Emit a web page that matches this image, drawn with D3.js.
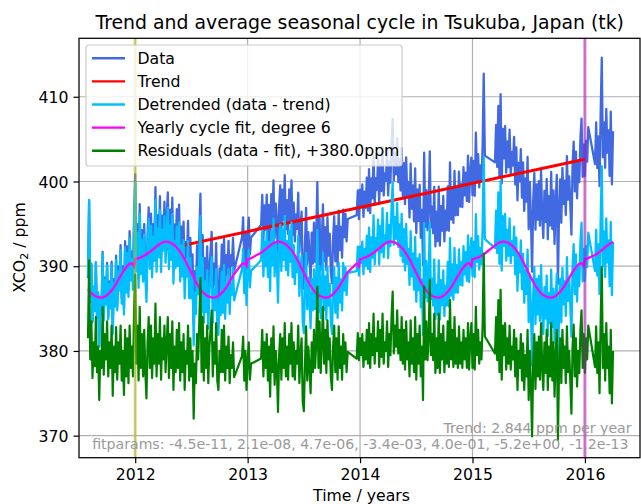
<!DOCTYPE html>
<html><head><meta charset="utf-8">
<script src="https://cdn.jsdelivr.net/npm/d3@7"></script>
<style>body{margin:0;background:#fff} svg{display:block} text{font-family:"DejaVu Sans",sans-serif}</style>
</head><body><svg id="c" width="641" height="504"></svg>
<script>
// ---------------- data ----------------
const xTicks = [2012, 2013, 2014, 2015, 2016];
const yTicks = [370, 380, 390, 400, 410];
const trendYears = [2012.0, 2016.0];
const trendValues = [391.25, 402.63];
const fitWindow = [2012.0, 2016.0];
// yearly cycle fit, by hundredth of a year (0.00 .. 0.99)
const cycleValues = [
390.85,390.87,390.9,390.95,391.0,391.05,391.1,391.17,391.25,391.32,
391.4,391.5,391.6,391.7,391.8,391.9,392.0,392.12,392.23,392.34,
392.45,392.55,392.64,392.72,392.79,392.85,392.88,392.9,392.9,392.88,
392.85,392.8,392.73,392.65,392.56,392.45,392.32,392.18,392.03,391.87,
391.7,391.5,391.28,391.05,390.8,390.55,390.28,390.0,389.73,389.46,
389.2,388.93,388.67,388.41,388.15,387.9,387.69,387.49,387.3,387.12,
386.95,386.82,386.7,386.6,386.52,386.45,386.39,386.34,386.31,386.3,
386.3,386.32,386.36,386.42,386.5,386.6,386.72,386.86,387.0,387.15,
387.3,387.51,387.72,387.94,388.17,388.4,388.63,388.86,389.08,389.3,
389.5,389.7,389.88,390.03,390.17,390.28,390.34,390.33,390.22,390.0];
// residuals (data - fit) + 380 ppm, sampled every 0.01 yr from 2011.58; null = no data
const residStart = 2011.58, residStep = 0.01;
const residualOffset = 380.0;
const detrendOffset = 390.25;
const residualValues = [
381.5,390.7,379.0,383.5,376.8,381.0,378.2,384.0,377.5,380.5,
374.2,380.0,378.0,385.2,377.2,382.0,379.0,383.5,377.0,381.0,
378.0,383.0,374.7,380.5,377.5,382.8,376.6,381.0,378.5,383.0,
376.5,380.0,374.8,382.5,377.0,381.5,376.2,383.0,378.0,380.5,
377.0,385.0,389.0,378.5,383.0,376.5,385.2,378.0,382.0,377.0,
382.5,377.5,374.4,381.0,384.0,378.0,383.0,376.8,381.5,378.5,
385.6,377.0,382.0,378.5,384.0,376.6,381.5,379.0,383.0,377.5,
381.0,384.0,376.8,382.0,378.0,383.5,375.4,380.5,377.5,382.5,
378.0,383.3,376.5,381.0,377.5,382.0,375.4,380.0,378.5,383.0,
376.5,381.5,377.0,380.0,372.0,378.5,376.2,382.0,379.0,383.5,
388.6,377.5,384.0,376.5,381.5,378.0,383.0,376.2,380.5,382.5,
384.8,377.0,381.0,378.5,383.3,376.5,375.4,380.0,377.5,382.5,
377.5,383.0,376.5,380.5,378.0,381.7,376.2,379.5,378.0,381.0,
376.9,null,null,null,null,null,null,
379.4,381.7,376.5,380.0,375.4,379.0,381.0,376.6,378.5,
null,null,null,null,null,null,null,null,
379.1,382.5,377.0,381.0,378.0,382.0,
376.5,380.5,374.6,381.5,377.5,382.9,376.0,380.0,378.0,372.8,
379.5,382.0,376.6,381.5,378.0,383.3,377.0,380.5,376.6,382.0,
378.5,383.3,377.0,381.0,376.6,380.0,378.5,383.0,376.2,379.5,
381.5,374.0,372.9,378.5,382.9,376.5,380.5,378.0,375.0,381.0,
377.5,382.5,378.0,381.0,387.6,378.0,383.5,377.4,381.0,385.2,
378.5,382.5,377.4,383.6,379.0,381.5,377.0,375.4,380.5,383.0,
377.5,381.5,376.6,382.9,378.0,380.5,376.6,382.0,378.5,381.0,
377.5,379.9,null,null,null,null,null,null,null,
379.1,
382.1,378.9,381.5,379.5,382.0,378.1,381.0,379.0,382.5,378.5,
383.3,378.0,382.0,379.5,384.4,378.5,381.5,380.0,383.5,378.1,
382.5,379.3,384.4,378.5,381.0,380.0,383.5,378.1,382.0,379.5,
384.0,387.0,379.7,383.0,380.5,384.8,379.7,382.5,378.9,384.0,
378.5,382.5,377.8,383.5,379.0,381.0,377.0,383.6,378.5,381.5,
377.5,384.0,376.6,382.0,378.5,383.0,377.0,380.5,374.2,387.6,
379.0,383.5,378.9,381.5,388.4,379.5,382.0,378.9,384.4,377.4,
381.5,378.0,384.4,377.4,382.0,379.0,383.0,377.5,381.0,378.5,
383.5,378.1,386.0,379.0,382.5,378.1,384.0,378.5,381.5,378.0,
382.9,378.5,381.0,378.0,382.5,379.0,381.5,378.0,383.3,377.8,
381.5,383.3,378.0,382.0,377.8,385.2,379.5,382.5,378.5,381.0,
379.0,383.0,391.5,381.7,null,null,null,null,null,null,null,null,
379.7,384.0,378.9,386.0,377.5,387.2,376.6,383.0,
379.5,383.3,377.8,381.5,378.5,383.0,377.8,380.5,379.0,382.5,
377.0,381.5,375.4,380.0,378.0,382.0,376.5,380.9,375.4,379.5,
377.0,382.5,374.2,380.0,376.0,369.9,378.5,382.0,375.5,381.0,
377.0,381.7,376.6,383.3,378.0,375.4,381.0,377.4,382.5,375.4,
380.5,377.0,383.3,376.5,381.0,374.6,379.5,382.5,369.5,378.0,
381.5,376.2,382.5,378.0,380.5,376.2,382.9,377.5,380.0,376.5,
372.6,380.5,383.1,377.0,381.5,375.8,380.0,377.4,382.5,384.8,
378.0,382.0,377.4,381.5,379.0,383.0,null,null,null,null,null,
378.1,382.9,377.4,381.0,375.0,383.5,389.9,378.0,382.0,
376.5,383.3,378.0,380.5,375.0,382.5,373.8,380.0];
const titleText = "Trend and average seasonal cycle in Tsukuba, Japan (tk)";
const legendLabels = ["Data","Trend","Detrended (data - trend)","Yearly cycle fit, degree 6","Residuals (data - fit), +380.0ppm"];
const legendColors = ["#4169e1","#ff0000","#00bfff","#ff00ff","#008000"];
const trendNote = "Trend: 2.844 ppm per year";
const fitNote = "fitparams: -4.5e-11, 2.1e-08, 4.7e-06, -3.4e-03, 4.0e-01, -5.2e+00, -1.2e-13";

// ---------------- derived series ----------------
const trendScale = d3.scaleLinear().domain(trendYears).range(trendValues);
const rows = [];
residualValues.forEach((r, i) => {
  if (r === null) return;
  const h = Math.round((residStart + i * residStep) * 100);
  const t = h / 100;
  const cyc = cycleValues[h % 100];
  const det = r - residualOffset + cyc;
  const dat = det + trendScale(t) - detrendOffset;
  rows.push({t, resid: r, cyc, det, dat});
});

// ---------------- chart ----------------
const L = 79, R = 640, T = 38.3, B = 457.7;
const x = d3.scaleLinear().domain([2011.5, 2016.49]).range([L, R]);
const y = d3.scaleLinear().domain([367.4, 416.9]).range([B, T]);
const svg = d3.select("#c");
svg.append("rect").attr("width", 641).attr("height", 504).attr("fill", "#fff");
svg.append("defs").append("clipPath").attr("id", "clip")
  .append("rect").attr("x", L).attr("y", T).attr("width", R - L).attr("height", B - T);

// grid
const grid = svg.append("g").attr("stroke", "#b0b0b0").attr("stroke-width", 1.2);
xTicks.forEach(v => grid.append("line").attr("x1", x(v)).attr("x2", x(v)).attr("y1", T).attr("y2", B));
yTicks.forEach(v => grid.append("line").attr("x1", L).attr("x2", R).attr("y1", y(v)).attr("y2", y(v)));

const plot = svg.append("g").attr("clip-path", "url(#clip)");
const mk = key => d3.line().x(d => x(d.t)).y(d => y(d[key]));
plot.append("path").datum(rows).attr("d", mk("dat")).attr("fill", "none")
  .attr("stroke", legendColors[0]).attr("stroke-width", 2.3).attr("stroke-linejoin", "round");
plot.append("path").datum(trendYears.map((t, i) => ({t, v: trendValues[i]})))
  .attr("d", d3.line().x(d => x(d.t)).y(d => y(d.v))).attr("fill", "none")
  .attr("stroke", legendColors[1]).attr("stroke-width", 3);
plot.append("path").datum(rows).attr("d", mk("det")).attr("fill", "none")
  .attr("stroke", legendColors[2]).attr("stroke-width", 2.3).attr("stroke-linejoin", "round");
plot.append("path").datum(rows).attr("d", mk("cyc")).attr("fill", "none")
  .attr("stroke", legendColors[3]).attr("stroke-width", 2.3);
plot.append("path").datum(rows).attr("d", mk("resid")).attr("fill", "none")
  .attr("stroke", legendColors[4]).attr("stroke-width", 2.2).attr("stroke-linejoin", "round");

// fit window markers
plot.append("line").attr("x1", x(fitWindow[0])).attr("x2", x(fitWindow[0])).attr("y1", T).attr("y2", B)
  .attr("stroke", "#bfbf00").attr("stroke-opacity", 0.45).attr("stroke-width", 3.2);
plot.append("line").attr("x1", x(fitWindow[1])).attr("x2", x(fitWindow[1])).attr("y1", T).attr("y2", B)
  .attr("stroke", "#bf00bf").attr("stroke-opacity", 0.45).attr("stroke-width", 3.2);

// notes
svg.append("text").attr("x", 631.5).attr("y", 433).attr("text-anchor", "end")
  .attr("font-size", 14.1).attr("fill", "#999").text(trendNote);
svg.append("text").attr("x", 628.5).attr("y", 448.5).attr("text-anchor", "end")
  .attr("font-size", 14.1).attr("fill", "#999").text(fitNote);

// axes
const xa = svg.append("g").attr("transform", `translate(0,${B})`)
  .call(d3.axisBottom(x).tickValues(xTicks).tickFormat(d3.format("d")).tickSize(5.5).tickPadding(5));
const ya = svg.append("g").attr("transform", `translate(${L},0)`)
  .call(d3.axisLeft(y).tickValues(yTicks).tickFormat(d3.format("d")).tickSize(5.5).tickPadding(5));
[xa, ya].forEach(a => {
  a.select(".domain").remove();
  a.selectAll("line").attr("stroke", "#000").attr("stroke-width", 1.2);
  a.selectAll("text").attr("font-size", 15.7).attr("fill", "#000").attr("font-family", '"DejaVu Sans",sans-serif');
});
xa.selectAll("text").attr("dy", "0.76em");
ya.selectAll("text").attr("dy", "0.36em");

svg.append("rect").attr("x", L).attr("y", T).attr("width", R - L).attr("height", B - T)
  .attr("fill", "none").attr("stroke", "#000").attr("stroke-width", 1.25);

// labels
svg.append("text").attr("x", 359.7).attr("y", 28.6).attr("text-anchor", "middle")
  .attr("font-size", 18.85).text(titleText);
svg.append("text").attr("x", 361.5).attr("y", 500.5).attr("text-anchor", "middle")
  .attr("font-size", 15.7).text("Time / years");
const yl = svg.append("text").attr("transform", "translate(24.5,247.5) rotate(-90)")
  .attr("text-anchor", "middle").attr("font-size", 15.7);
yl.append("tspan").text("XCO");
yl.append("tspan").attr("font-size", 11).attr("dy", 3).text("2");
yl.append("tspan").attr("dy", -3).text(" / ppm");

// legend
const lg = svg.append("g");
lg.append("rect").attr("x", 86).attr("y", 45).attr("width", 316).attr("height", 121).attr("rx", 3)
  .attr("fill", "#fff").attr("fill-opacity", 0.8).attr("stroke", "#cccccc").attr("stroke-width", 1.2);
const rowY = d3.scaleLinear().domain([0, 4]).range([58.3, 150.7]);
legendLabels.forEach((lab, i) => {
  lg.append("line").attr("x1", 92).attr("x2", 125).attr("y1", rowY(i)).attr("y2", rowY(i))
    .attr("stroke", legendColors[i]).attr("stroke-width", 2.4);
  lg.append("text").attr("x", 137.5).attr("y", rowY(i) + 5.7).attr("font-size", 15.7).text(lab);
});
</script></body></html>
